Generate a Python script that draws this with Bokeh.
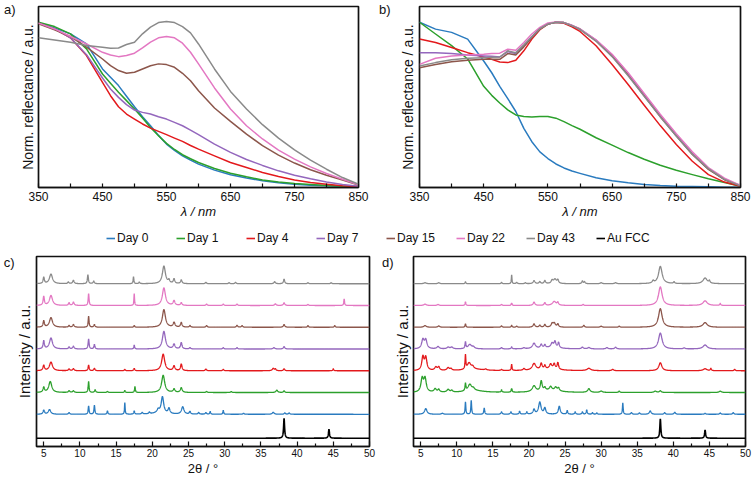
import numpy as np
from bokeh.plotting import figure
from bokeh.models import Range1d, FixedTicker, Legend, LegendItem, LinearAxis
from bokeh.layouts import column, row
from bokeh.embed import file_html
from bokeh.resources import INLINE

# ---------------- data ----------------
SERIES = ["Day 0", "Day 1", "Day 4", "Day 7", "Day 15", "Day 22", "Day 43", "Au FCC"]
COLORS = ["#2a7bbf", "#2ca02c", "#e3191c", "#9467bd", "#8c564b", "#e377c2", "#8a8a8a", "#000000"]

WAVELENGTH = [350, 375, 400, 425, 450, 462.5, 475, 487.5, 500, 512.5, 525, 537.5, 550, 562.5, 575, 587.5,
              600, 625, 650, 675, 700, 725, 750, 775, 800, 825, 850]

# panel a: normalised reflectance
A_DAY0 = [.908, .882, .849, .793, .655, .609, .563, .504, .446, .391, .341, .288, .240, .205, .175, .151,
          .129, .096, .070, .052, .037, .026, .018, .013, .009, .006, .004]
A_DAY1 = [.913, .889, .849, .766, .627, .576, .526, .480, .434, .384, .332, .286, .244, .210, .181, .159,
          .138, .105, .079, .059, .042, .031, .022, .017, .011, .007, .006]
A_DAY4 = [.908, .876, .827, .729, .581, .507, .446, .406, .378, .351, .328, .310, .292, .273, .255, .232,
          .212, .175, .138, .111, .083, .061, .042, .028, .018, .009, .004]
A_DAY7 = [.908, .876, .827, .734, .605, .544, .498, .458, .428, .415, .406, .391, .378, .360, .341, .317,
          .292, .240, .194, .155, .122, .092, .068, .048, .031, .017, .007]
A_DAY15 = [.904, .871, .834, .775, .710, .673, .646, .631, .637, .655, .673, .683, .679, .664, .631, .590,
           .535, .439, .365, .295, .231, .179, .135, .098, .068, .041, .013]
A_DAY22 = [.908, .876, .834, .793, .747, .732, .723, .729, .742, .771, .803, .827, .834, .827, .797, .747,
           .683, .550, .434, .341, .268, .207, .157, .114, .077, .046, .015]
A_DAY43 = [.827, .815, .803, .784, .775, .769, .771, .790, .803, .849, .886, .911, .917, .911, .889, .854,
           .793, .655, .531, .434, .347, .273, .208, .151, .101, .055, .018]

# panel b: normalised reflectance
B_DAY0 = [.913, .875, .857, .820, .699, .634, .559, .491, .420, .327, .253, .197, .160, .130, .108, .091,
          .078, .054, .037, .026, .017, .011, .007, .006, .004, .002, .002]
B_DAY1 = [.913, .848, .784, .710, .559, .509, .467, .429, .401, .392, .390, .392, .392, .383, .364, .342,
          .322, .275, .234, .193, .156, .123, .095, .071, .048, .028, .007]
B_DAY4 = [.820, .801, .773, .745, .721, .708, .693, .690, .703, .755, .820, .872, .903, .913, .907, .888,
          .862, .783, .680, .569, .454, .342, .238, .145, .071, .030, .007]
B_DAY7 = [.745, .745, .740, .732, .727, .725, .721, .751, .740, .782, .833, .879, .903, .913, .911, .896,
          .875, .814, .732, .628, .513, .398, .290, .188, .104, .045, .011]
B_DAY15 = [.662, .680, .695, .703, .708, .708, .708, .740, .732, .777, .829, .875, .903, .913, .911, .894,
           .874, .810, .727, .621, .507, .392, .284, .182, .100, .043, .009]
B_DAY22 = [.680, .714, .727, .732, .736, .740, .742, .764, .758, .801, .848, .885, .909, .914, .911, .896,
           .877, .816, .736, .634, .519, .405, .297, .197, .110, .052, .011]
B_DAY43 = [.671, .690, .706, .714, .717, .719, .721, .755, .745, .788, .833, .877, .903, .913, .911, .894,
           .874, .809, .723, .617, .504, .390, .284, .184, .104, .045, .009]

# XRD peak tables: (2theta, height, half-width)
C_DAY0 = [(5.0, 12, .12), (5.8, 14, .2), (8.5, 5, .1), (11.2, 25, .07), (12.0, 27, .07), (13.8, 10, .07),
          (16.2, 35, .05), (17.5, 10, .07), (18.6, 5, .1), (19.6, 5, .1), (20.8, 8, .15), (21.0, 6, .8),
          (21.4, 48, .2), (22.3, 16, .15), (24.2, 22, .2), (25.2, 8, .1), (26.4, 5, .1), (27.4, 5, .1),
          (28.0, 8, .07), (29.8, 12, .06), (32.6, 3, .1), (36.7, 6, .15), (38.3, 4, .1), (38.9, 4, .1)]
C_DAY1 = [(5.0, 15, .12), (5.9, 33, .25), (8.5, 5, .12), (9.1, 5, .12), (11.2, 33, .07), (12.1, 8, .1),
          (13.8, 3, .1), (16.2, 6, .07), (17.6, 18, .06), (21.5, 52, .25), (23.0, 10, .15), (24.0, 14, .15),
          (27.5, 3, .1), (30.9, 3, .1), (37.2, 7, .15), (38.2, 5, .1)]
C_DAY4 = [(5.0, 16, .12), (6.0, 26, .25), (8.5, 5, .12), (9.1, 6, .12), (11.2, 17, .08), (12.0, 7, .1),
          (16.2, 4, .08), (17.5, 7, .08), (21.5, 50, .25), (23.0, 14, .15), (24.0, 20, .12), (27.4, 5, .1),
          (29.8, 4, .1), (36.7, 7, .15), (37.0, 5, .1), (38.2, 6, .1), (45.0, 6, .07)]
C_DAY7 = [(5.0, 24, .1), (6.0, 33, .25), (8.5, 6, .1), (9.1, 8, .12), (11.2, 30, .08), (12.0, 14, .08),
          (17.5, 12, .06), (21.6, 53, .25), (23.0, 14, .15), (24.0, 19, .12), (25.2, 4, .1), (29.8, 4, .1),
          (31.7, 4, .1), (36.8, 4, .15), (38.2, 7, .12)]
C_DAY15 = [(5.0, 19, .1), (6.0, 29, .25), (8.5, 5, .1), (9.1, 8, .12), (11.2, 33, .07), (12.0, 8, .1),
           (17.5, 5, .07), (21.6, 53, .25), (23.0, 14, .15), (24.0, 14, .12), (25.2, 5, .1), (27.5, 5, .1),
           (31.7, 6, .1), (32.4, 5, .1), (38.2, 8, .12), (41.5, 5, .08), (45.2, 5, .08)]
C_DAY22 = [(5.0, 27, .1), (6.0, 30, .25), (8.5, 8, .1), (9.1, 10, .12), (11.2, 36, .07), (17.5, 36, .05),
           (21.6, 53, .25), (23.0, 14, .15), (24.0, 8, .12), (27.5, 4, .1), (29.8, 4, .1), (31.7, 4, .1),
           (37.0, 5, .12), (38.2, 8, .12), (41.5, 3, .1), (46.5, 20, .06)]
C_DAY43 = [(5.0, 19, .1), (6.0, 29, .25), (8.4, 5, .1), (9.1, 10, .12), (11.1, 27, .08), (11.9, 8, .1),
           (17.4, 21, .06), (18.2, 5, .08), (21.6, 53, .25), (22.3, 9, .12), (23.0, 14, .12), (24.0, 11, .12),
           (27.4, 4, .1), (30.6, 3, .1), (31.5, 4, .1), (36.9, 6, .12), (38.2, 14, .1), (41.5, 3, .1), (44.7, 3, .1)]
C_AU = [(38.2, 60, .08), (44.4, 27, .08)]

D_DAY0 = [(5.7, 17, .2), (8.0, 3, .15), (11.2, 37, .06), (12.0, 42, .06), (13.8, 19, .07), (16.2, 7, .1),
          (17.5, 7, .1), (18.7, 9, .08), (19.7, 7, .08), (20.7, 14, .15), (21.5, 36, .2), (22.2, 18, .15),
          (24.2, 24, .15), (25.3, 11, .08), (26.4, 7, .08), (27.4, 7, .08), (28.0, 13, .08), (28.8, 5, .08),
          (29.4, 4, .08), (33.0, 34, .06), (34.2, 5, .1), (35.3, 4, .1), (36.8, 10, .15), (38.8, 5, .1),
          (40.2, 6, .12), (44.4, 3, .1), (46.5, 4, .1), (48.3, 5, .1)]
D_DAY1 = [(5.2, 40, .2), (5.6, 40, .2), (7.0, 10, .2), (7.5, 8, .15), (8.8, 8, .2), (9.3, 5, .15),
          (11.2, 22, .07), (11.8, 20, .3), (12.3, 6, .2), (12.5, 5, 1.5), (16.2, 7, .07), (17.6, 11, .07),
          (20.7, 18, .3), (21.7, 30, .15), (22.2, 9, .15), (23.0, 11, .2), (23.0, 6, 1.5), (23.7, 10, .2),
          (24.1, 9, .15), (28.3, 11, .2), (30.0, 4, .2), (32.5, 4, .1), (37.5, 4, .2), (38.2, 5, .15), (46.5, 4, .2)]
D_DAY4 = [(5.3, 40, .18), (5.7, 38, .18), (7.1, 10, .2), (7.5, 10, .15), (8.8, 8, .2), (9.2, 5, .15),
          (11.2, 42, .06), (11.7, 20, .3), (12.2, 7, .2), (12.5, 4, 1.5), (14.0, 3, .15), (16.2, 3, .1),
          (17.6, 19, .06), (19.3, 5, .15), (20.7, 20, .3), (21.7, 18, .15), (22.2, 11, .12), (23.0, 14, .2),
          (23.0, 5, 1.5), (23.5, 15, .15), (24.0, 20, .12), (28.3, 7, .3), (31.6, 4, .15), (38.2, 24, .25),
          (44.4, 6, .3), (45.2, 7, .08), (48.5, 4, .1)]
D_DAY7 = [(5.3, 27, .2), (5.7, 26, .2), (7.4, 7, .2), (8.8, 5, .2), (9.3, 5, .2), (11.2, 20, .07),
          (11.8, 13, .3), (12.3, 5, .2), (16.2, 4, .1), (17.6, 6, .08), (19.3, 3, .15), (20.7, 16, .25),
          (21.7, 11, .15), (22.2, 9, .12), (23.0, 4, 1.5), (23.2, 13, .2), (23.6, 18, .15), (24.1, 16, .12),
          (27.4, 5, .15), (28.3, 4, .2), (30.8, 4, .15), (32.0, 5, .15), (38.2, 48, .3), (41.5, 3, .15), (44.4, 12, .35)]
D_DAY15 = [(5.6, 5, .2), (7.5, 4, .15), (11.2, 10, .07), (16.2, 4, .1), (17.6, 6, .07), (18.3, 3, .1),
           (20.7, 10, .15), (21.5, 6, .12), (22.2, 8, .12), (23.2, 10, .15), (23.5, 12, .2), (24.0, 9, .12),
           (27.6, 6, .1), (30.0, 3, .15), (32.5, 3, .1), (38.2, 56, .3), (44.4, 14, .35)]
D_DAY22 = [(5.6, 4, .2), (7.4, 3, .15), (11.2, 11, .07), (16.2, 3, .1), (17.6, 7, .07), (20.7, 10, .15),
           (22.2, 8, .12), (23.5, 12, .3), (24.0, 8, .12), (27.5, 3, .1), (38.2, 56, .3), (44.4, 14, .35), (46.5, 6, .08)]
D_DAY43 = [(5.6, 3, .2), (7.5, 3, .15), (11.2, 6, .07), (16.2, 4, .08), (17.6, 27, .05), (18.3, 4, .1),
           (19.5, 3, .1), (20.7, 9, .15), (21.5, 6, .12), (22.2, 9, .12), (23.2, 9, .15), (23.6, 13, .25),
           (24.0, 10, .12), (27.4, 8, .1), (27.7, 6, .1), (30.0, 3, .15), (32.0, 3, .15), (37.2, 7, .15),
           (38.2, 52, .3), (40.1, 5, .1), (44.4, 17, .35), (45.0, 7, .1)]
D_AU = [(38.2, 58, .08), (44.4, 25, .08)]

LAM_TICKS = [350, 450, 550, 650, 750, 850]
LAM_MINOR = [400, 500, 600, 700, 800]
TT_TICKS = [5, 10, 15, 20, 25, 30, 35, 40, 45, 50]
TT_MINOR = [7.5, 12.5, 17.5, 22.5, 27.5, 32.5, 37.5, 42.5, 47.5]

FONT = "Liberation Sans"
INK = "#111111"


def style(p, xticks, xminor, xlabel, ylabel, ystandoff, tick_in, minor_in, tick_size, ylab_size, xlab_size,
          tick_standoff, xlab_standoff, xlabel_style="normal"):
    p.grid.visible = False
    p.outline_line_color = INK
    p.outline_line_width = 1.7
    p.background_fill_color = "white"
    p.border_fill_color = "white"
    ax = p.xaxis[0]
    ax.ticker = FixedTicker(ticks=xticks, minor_ticks=xminor)
    ax.axis_line_color = INK
    ax.axis_line_width = 1.7
    ax.major_tick_in = tick_in
    ax.major_tick_out = 0
    ax.minor_tick_in = minor_in
    ax.minor_tick_out = 0
    ax.major_tick_line_width = 1.2
    ax.minor_tick_line_width = 1.2
    ax.major_tick_line_color = INK
    ax.minor_tick_line_color = INK
    ax.major_label_text_font = FONT
    ax.major_label_text_font_size = tick_size
    ax.major_label_text_color = INK
    ax.major_label_standoff = tick_standoff
    ax.axis_label = xlabel
    ax.axis_label_text_font = FONT
    ax.axis_label_text_font_size = xlab_size
    ax.axis_label_text_font_style = xlabel_style
    ax.axis_label_text_color = INK
    ax.axis_label_standoff = xlab_standoff
    ay = p.yaxis[0]
    ay.ticker = FixedTicker(ticks=[])
    ay.axis_line_color = None
    ay.major_tick_in = 0
    ay.major_tick_out = 0
    ay.minor_tick_in = 0
    ay.minor_tick_out = 0
    ay.axis_label = ylabel
    ay.axis_label_text_font = FONT
    ay.axis_label_text_font_size = ylab_size
    ay.axis_label_text_font_style = "normal"
    ay.axis_label_text_color = INK
    ay.axis_label_standoff = ystandoff


def panel_letter(p, ypos, text, standoff):
    # outer left axis whose single tick label is the panel letter
    ax = LinearAxis(ticker=FixedTicker(ticks=[ypos]), major_label_overrides={ypos: text},
                    axis_line_color=None, major_tick_line_color=None, minor_tick_line_color=None,
                    major_tick_in=0, major_tick_out=0, minor_tick_in=0, minor_tick_out=0,
                    major_label_standoff=standoff, major_label_text_font=FONT,
                    major_label_text_font_size="13px", major_label_text_color=INK)
    p.add_layout(ax, "left")


def spectra_fig(width, bl, br, series, letter, ystand, lstand):
    p = figure(width=width, height=226, x_range=Range1d(350, 850), y_range=Range1d(0, 1.0),
               output_backend="svg", toolbar_location=None,
               min_border_left=bl, min_border_right=br, min_border_top=6, min_border_bottom=39)
    style(p, LAM_TICKS, LAM_MINOR, "λ / nm", "Norm. reflectance / a.u.", ystand, 4, 4, "12px", "14px", "13px",
          4, 0, xlabel_style="italic")
    for vals, col in zip(series, COLORS):
        p.line(WAVELENGTH, vals, line_color=col, line_width=1.5, line_join="round")
    panel_letter(p, 0.985, letter, lstand)
    return p


TT = np.arange(4.0, 50.0001, 0.02)


def pattern(peaks):
    y = np.zeros_like(TT)
    for pos, h, w in peaks:
        y += h * w * w / ((TT - pos) ** 2 + w * w)
    return y


def xrd_fig(width, bl, br, series, letter, ystand, lstand):
    p = figure(width=width, height=228, x_range=Range1d(4, 50), y_range=Range1d(-25, 547),
               output_backend="svg", toolbar_location=None,
               min_border_left=bl, min_border_right=br, min_border_top=6, min_border_bottom=32)
    style(p, TT_TICKS, TT_MINOR, "2θ / °", "Intensity / a.u.", ystand, 5, 3, "10px", "15px", "13px", 2, 1)
    for i in range(8):
        offset = 0.0 if i == 7 else 72 + 65.5 * i
        p.line(TT, pattern(series[i]) + offset, line_color=COLORS[i], line_width=1.3 if i < 7 else 1.6)
    panel_letter(p, 529, letter, lstand)
    return p


fa = spectra_fig(375, 33, 17, [A_DAY0, A_DAY1, A_DAY4, A_DAY7, A_DAY15, A_DAY22, A_DAY43], "a)", 3, 1)
fb = spectra_fig(378, 42, 13, [B_DAY0, B_DAY1, B_DAY4, B_DAY7, B_DAY15, B_DAY22, B_DAY43], "b)", 4, 6)

fc = xrd_fig(378, 32, 9, [C_DAY0, C_DAY1, C_DAY4, C_DAY7, C_DAY15, C_DAY22, C_DAY43, C_AU], "c)", 4, -2)
fd = xrd_fig(375, 30, 8, [D_DAY0, D_DAY1, D_DAY4, D_DAY7, D_DAY15, D_DAY22, D_DAY43, D_AU], "d)", 3, -3)

# legend strip
fl = figure(width=753, height=24, x_range=Range1d(0, 1), y_range=Range1d(0, 1),
            output_backend="svg", toolbar_location=None, min_border=0,
            x_axis_location=None, y_axis_location=None)
fl.grid.visible = False
fl.outline_line_color = None
items = []
for name, col in zip(SERIES, COLORS):
    # placeholder renderer kept outside the visible range; only its legend sample is seen
    r = fl.line(x=[0, 1], y=[-5, -5], line_color=col, line_width=1.6)
    items.append(LegendItem(label=name, renderers=[r]))
leg = Legend(items=items, orientation="horizontal", location=(106, 3), glyph_width=9, glyph_height=18,
             label_height=18, label_width=57, label_standoff=2, spacing=2, padding=0, margin=0,
             border_line_color=None, background_fill_alpha=0, label_text_font=FONT,
             label_text_font_size="12px", label_text_color=INK)
fl.add_layout(leg)

layout = column(row(fa, fb), fl, row(fc, fd))
open("out.html", "w").write(file_html(layout, INLINE))
